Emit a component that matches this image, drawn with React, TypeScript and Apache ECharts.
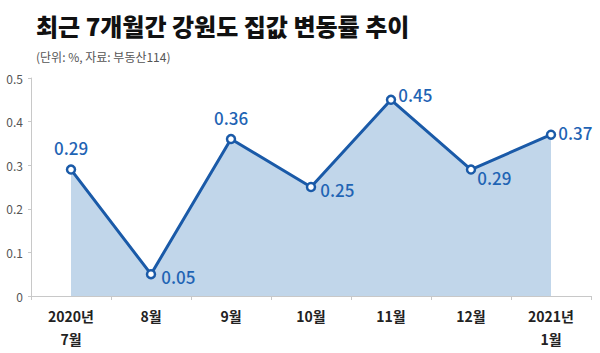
import React, { useEffect, useRef } from "react";
import * as echarts from "echarts";

const categories = ["2020년\n7월", "8월", "9월", "10월", "11월", "12월", "2021년\n1월"];
const values = [0.29, 0.05, 0.36, 0.25, 0.45, 0.29, 0.37];
const titleText = "최근 7개월간 강원도 집값 변동률 추이";
const subText = "(단위: %, 자료: 부동산114)";

const FONT = "'Noto Sans CJK KR', 'Noto Sans', sans-serif";

const labelCfg: any[] = [
  { position: "top", distance: 8 },
  { position: "right", distance: 5, offset: [0, 2] },
  { position: "top", distance: 8 },
  { position: "right", distance: 4, offset: [0, 2] },
  { position: "right", distance: 2, offset: [0, -5] },
  { position: "right", distance: 1, offset: [0, 8] },
  { position: "right", distance: 2, offset: [0, -2] },
];

export default function App() {
  const ref = useRef<HTMLDivElement>(null);
  useEffect(() => {
    const chart = echarts.init(ref.current!, null, { renderer: "svg" });
    chart.setOption({
      animation: false,
      backgroundColor: "#ffffff",
      title: [
        {
          text: titleText,
          left: 31,
          top: 8,
          textStyle: { fontFamily: FONT, fontSize: 24, fontWeight: 900, color: "#111" },
        },
        {
          text: subText,
          left: 31,
          top: 45,
          textStyle: { fontFamily: FONT, fontSize: 12, fontWeight: "normal", color: "#555" },
        },
      ],
      grid: { left: 31, right: 9, top: 78, bottom: 57 },
      xAxis: {
        type: "category",
        data: categories,
        boundaryGap: true,
        axisLine: { lineStyle: { color: "#c8c8c8", width: 1 } },
        axisTick: { show: true, length: 4, lineStyle: { color: "#c8c8c8" } },
        axisLabel: {
          fontFamily: FONT,
          fontSize: 14,
          fontWeight: "bold",
          color: "#222",
          lineHeight: 23,
          margin: 8,
          interval: 0,
        },
      },
      yAxis: {
        type: "value",
        min: 0,
        max: 0.5,
        interval: 0.1,
        axisLine: { show: true, lineStyle: { color: "#c8c8c8" } },
        axisTick: { show: true, length: 3, lineStyle: { color: "#c8c8c8" } },
        splitLine: { show: false },
        axisLabel: { fontFamily: FONT, fontSize: 12, color: "#555", margin: 8 },
      },
      series: [
        {
          type: "line",
          data: values.map((v, i) => ({ value: v, label: labelCfg[i] })),
          symbol: "circle",
          symbolSize: 8,
          showAllSymbol: true,
          lineStyle: { color: "#1a5aa8", width: 3 },
          itemStyle: { color: "#ffffff", borderColor: "#1a5aa8", borderWidth: 2.5 },
          areaStyle: { color: "#c1d6ea", opacity: 1 },
          label: {
            show: true,
            fontFamily: FONT,
            fontSize: 17,
            fontWeight: 500,
            color: "#1f64b4",
            formatter: (p: any) => p.value.toFixed(2),
          },
          z: 3,
        },
      ],
    });
    return () => chart.dispose();
  }, []);
  return <div ref={ref} style={{ width: 600, height: 353, position: "absolute", left: 0, top: 0 }} />;
}
